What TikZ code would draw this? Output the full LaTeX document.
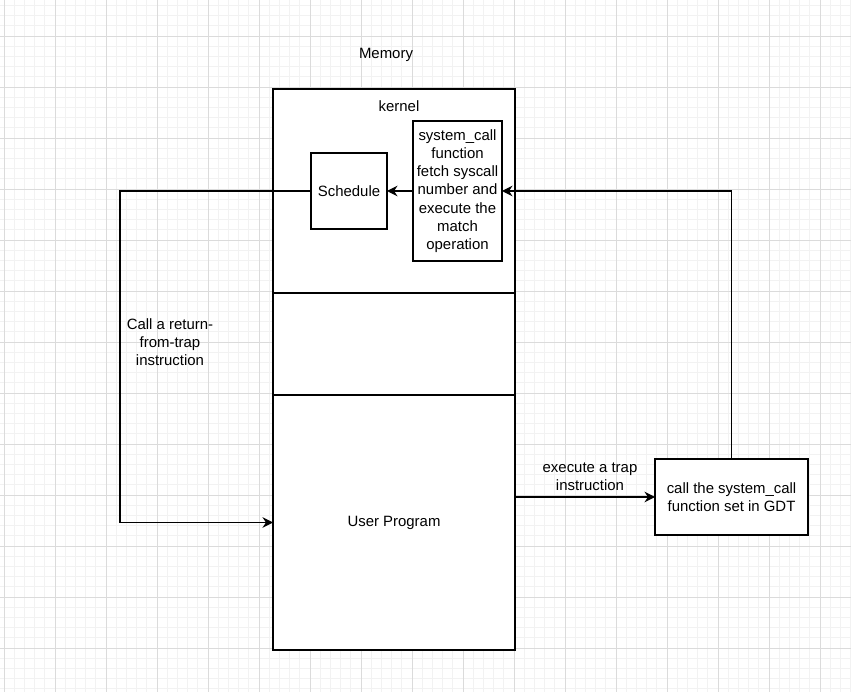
\documentclass[tikz,border=0pt]{standalone}
\usepackage{fontspec}
\setmainfont{Liberation Sans}
\usetikzlibrary{arrows.meta}
\tikzset{
  blk/.style={draw, fill=white, line width=0.7pt, inner sep=0pt, outer sep=0pt, align=center},
  link/.style={line width=0.75pt, -{Stealth[length=6pt, width=6pt, inset=2pt]}},
  minorln/.style={draw=black!5, line width=0.4pt},
  majorln/.style={draw=black!14, line width=0.45pt}
}
\begin{document}
\begin{tikzpicture}[x=0.02cm, y=-0.02cm, font=\fontsize{8.5}{10.4}\selectfont]
    \useasboundingbox (0,0) rectangle (851,692);
    % grid
    \begin{scope}
      \clip (0,0) rectangle (851,692);
      \foreach \i in {0,...,84} \draw[minorln] ({4+10.2*\i},0) -- ({4+10.2*\i},692);
      \foreach \j in {0,...,69} \draw[minorln] (0,{-4.8+10.2*\j}) -- (851,{-4.8+10.2*\j});
      \foreach \i in {0,...,16} \draw[majorln] ({4+51*\i},0) -- ({4+51*\i},692);
      \foreach \j in {0,...,13} \draw[majorln] (0,{36+51*\j}) -- (851,{36+51*\j});
    \end{scope}
    % memory layout
    \node (memlbl) at (386,55) {Memory};
    \node[blk, minimum width=4.84cm, minimum height=4.08cm] (kern) at (394,191) {};
    \node[blk, minimum width=4.84cm, minimum height=2.04cm] (gap) at (394,344) {};
    \node[blk, minimum width=4.84cm, minimum height=5.10cm] (user) at (394,522.5) {User Program};
    \node (kernlbl) at (399,106) {kernel};
    \node[blk, minimum width=1.52cm, minimum height=1.52cm] (sched) at (349,191) {Schedule};
    \node[blk, minimum width=1.78cm, minimum height=2.80cm] (sys) at (457.5,191)
      {system\_call\\function\\fetch syscall\\number and\\execute the\\match\\operation};
    \node[blk, minimum width=3.06cm, minimum height=1.52cm] (gdt) at (731.5,497)
      {call the system\_call\\function set in GDT};
    % connectors
    \coordinate (retpt) at (120,191);
    \draw[link] (sys.west) -- (sched.east);
    \draw[link] (sched.west) -- (retpt) |- (user.west);
    \node[align=center] (retlbl) at (170,342) {Call a return-\\from-trap\\instruction};
    \draw[link] (user.east |- gdt.west) -- (gdt.west);
    \node[align=center] (traplbl) at (590,477) {execute a trap\\instruction};
    \draw[link] (gdt.north) |- (sys.east);
\end{tikzpicture}
\end{document}
